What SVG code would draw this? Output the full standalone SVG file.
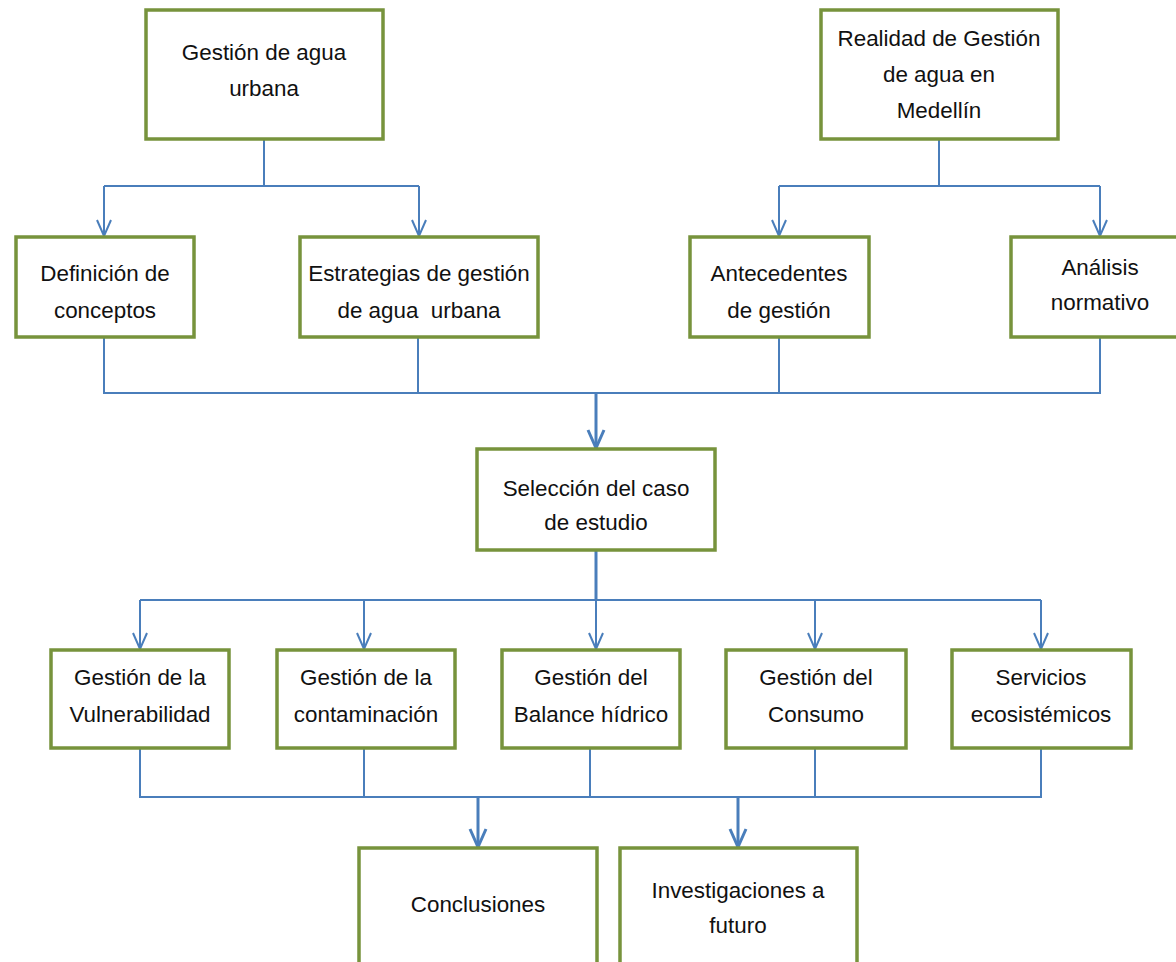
<svg xmlns="http://www.w3.org/2000/svg" width="1176" height="962" viewBox="0 0 1176 962">
<defs>
<style>
.box{fill:#ffffff;stroke:#77933c;stroke-width:3.5}
.t{font-family:"Liberation Sans",Arial,sans-serif;font-size:22.4px;fill:#111;text-anchor:middle}
.ln{fill:none;stroke:#4a7ebb;stroke-width:2}
.lt{fill:none;stroke:#4a7ebb;stroke-width:3}
</style>
<marker id="a" markerUnits="userSpaceOnUse" markerWidth="22" markerHeight="20" viewBox="-19 -10 22 20" refX="0" refY="0" orient="auto">
<path d="M-16 -7 L0 0 L-16 7" fill="none" stroke="#4a7ebb" stroke-width="2"/>
</marker>
<marker id="b" markerUnits="userSpaceOnUse" markerWidth="26" markerHeight="24" viewBox="-22 -12 26 24" refX="0" refY="0" orient="auto">
<path d="M-18 -8 L0 0 L-18 8" fill="none" stroke="#4a7ebb" stroke-width="3"/>
</marker>
</defs>
<rect width="1176" height="962" fill="#ffffff"/>
<g id="connectors">
<path class="ln" d="M264 139 V186 M104 186 H419"/>
<path class="ln" d="M104 186 V236" marker-end="url(#a)"/>
<path class="ln" d="M419 186 V236" marker-end="url(#a)"/>
<path class="ln" d="M939 139 V186 M779 186 H1100"/>
<path class="ln" d="M779 186 V236" marker-end="url(#a)"/>
<path class="ln" d="M1100 186 V236" marker-end="url(#a)"/>
<path class="ln" d="M104 337 V393 H1100 V337 M418 337 V393 M779 337 V393"/>
<path class="lt" d="M596 393 V448" marker-end="url(#b)"/>
<path class="lt" d="M596 550 V600"/>
<path class="ln" d="M140 600 H1041"/>
<path class="ln" d="M140 600 V649" marker-end="url(#a)"/>
<path class="ln" d="M364 600 V649" marker-end="url(#a)"/>
<path class="ln" d="M596 600 V649" marker-end="url(#a)"/>
<path class="ln" d="M815 600 V649" marker-end="url(#a)"/>
<path class="ln" d="M1041 600 V649" marker-end="url(#a)"/>
<path class="ln" d="M140 748 V797 H1041 V748 M364 748 V797 M590 748 V797 M815 748 V797"/>
<path class="lt" d="M478 797 V847" marker-end="url(#b)"/>
<path class="lt" d="M738 797 V847" marker-end="url(#b)"/>
</g>
<g id="n1"><rect class="box" x="146" y="10" width="237" height="129"/><text class="t" x="264" y="60">Gestión de agua</text><text class="t" x="264" y="96">urbana</text></g>
<g id="n2"><rect class="box" x="821" y="10" width="237" height="129"/><text class="t" x="939" y="46">Realidad de Gestión</text><text class="t" x="939" y="82">de agua en</text><text class="t" x="939" y="118">Medellín</text></g>
<g id="n3"><rect class="box" x="16" y="237" width="178" height="100"/><text class="t" x="105" y="281">Definición de</text><text class="t" x="105" y="318">conceptos</text></g>
<g id="n4"><rect class="box" x="300" y="237" width="238" height="100"/><text class="t" x="419" y="281">Estrategias de gestión</text><text class="t" x="419" y="318" style="white-space:pre">de agua  urbana</text></g>
<g id="n5"><rect class="box" x="690" y="237" width="179" height="100"/><text class="t" x="779" y="281">Antecedentes</text><text class="t" x="779" y="318">de gestión</text></g>
<g id="n6"><rect class="box" x="1011" y="237" width="180" height="100"/><text class="t" x="1100" y="275">Análisis</text><text class="t" x="1100" y="310">normativo</text></g>
<g id="n7"><rect class="box" x="477" y="449" width="238" height="101"/><text class="t" x="596" y="496">Selección del caso</text><text class="t" x="596" y="530">de estudio</text></g>
<g id="n8"><rect class="box" x="51" y="650" width="178" height="98"/><text class="t" x="140" y="685">Gestión de la</text><text class="t" x="140" y="722">Vulnerabilidad</text></g>
<g id="n9"><rect class="box" x="277" y="650" width="178" height="98"/><text class="t" x="366" y="685">Gestión de la</text><text class="t" x="366" y="722">contaminación</text></g>
<g id="n10"><rect class="box" x="502" y="650" width="178" height="98"/><text class="t" x="591" y="685">Gestión del</text><text class="t" x="591" y="722">Balance hídrico</text></g>
<g id="n11"><rect class="box" x="726" y="650" width="180" height="98"/><text class="t" x="816" y="685">Gestión del</text><text class="t" x="816" y="722">Consumo</text></g>
<g id="n12"><rect class="box" x="952" y="650" width="179" height="98"/><text class="t" x="1041" y="685">Servicios</text><text class="t" x="1041" y="722">ecosistémicos</text></g>
<g id="n13"><rect class="box" x="359" y="848" width="238" height="130"/><text class="t" x="478" y="912">Conclusiones</text></g>
<g id="n14"><rect class="box" x="620" y="848" width="237" height="130"/><text class="t" x="738" y="898">Investigaciones a</text><text class="t" x="738" y="933">futuro</text></g>
</svg>
